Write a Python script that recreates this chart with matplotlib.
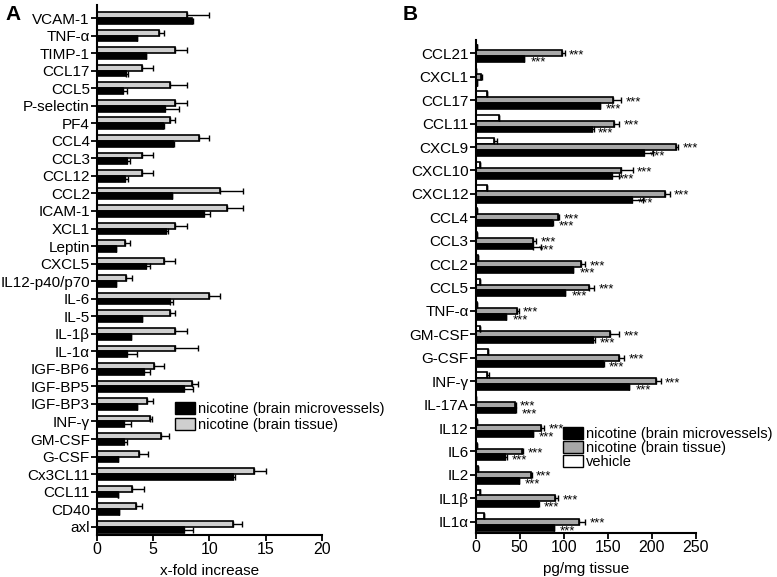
import matplotlib
matplotlib.use("Agg")
import matplotlib.pyplot as plt
from matplotlib.patches import Patch

plt.rcParams['font.family'] = ['Liberation Sans', 'DejaVu Sans']

# ---- panel A data (x-fold increase) ----
a_labels = ["VCAM-1", "TNF-α", "TIMP-1", "CCL17", "CCL5", "P-selectin", "PF4", "CCL4",
            "CCL3", "CCL12", "CCL2", "ICAM-1", "XCL1", "Leptin", "CXCL5", "IL12-p40/p70",
            "IL-6", "IL-5", "IL-1β", "IL-1α", "IGF-BP6", "IGF-BP5", "IGF-BP3", "INF-γ",
            "GM-CSF", "G-CSF", "Cx3CL11", "CCL11", "CD40", "axl"]
a_tissue = [8.0, 5.5, 7.0, 4.05, 6.55, 7.0, 6.55, 9.05, 4.05, 4.05, 11.0, 11.55, 7.0, 2.5,
            6.0, 2.6, 10.0, 6.55, 7.0, 7.0, 5.05, 8.5, 4.5, 4.75, 5.7, 3.75, 14.0, 3.15,
            3.5, 12.1]
a_tissue_err = [2.0, 0.5, 1.0, 0.95, 1.45, 1.0, 0.45, 0.95, 0.95, 0.95, 2.0, 1.45, 1.0, 0.5,
                1.0, 0.5, 1.0, 0.45, 1.0, 2.0, 0.95, 0.5, 0.5, 0.15, 0.7, 0.8, 1.0, 1.05,
                0.5, 0.8]
a_vessel = [8.5, 3.55, 4.4, 2.6, 2.35, 6.05, 5.85, 6.8, 2.7, 2.55, 6.7, 9.5, 6.2, 1.7,
            4.4, 1.7, 6.5, 4.0, 3.05, 2.65, 4.2, 7.75, 3.6, 2.4, 2.4, 1.9, 12.1, 1.9,
            1.95, 7.8]
a_vessel_err = [0.1, 0.0, 0.0, 0.2, 0.35, 1.25, 0.15, 0.1, 0.3, 0.2, 0.0, 0.6, 0.1, 0.0,
                0.3, 0.0, 0.25, 0.0, 0.0, 0.95, 0.5, 0.85, 0.0, 0.65, 0.25, 0.0, 0.2, 0.0,
                0.0, 0.8]

# ---- panel B data (pg/mg tissue) ----
b_labels = ["CCL21", "CXCL1", "CCL17", "CCL11", "CXCL9", "CXCL10", "CXCL12", "CCL4", "CCL3",
            "CCL2", "CCL5", "TNF-α", "GM-CSF", "G-CSF", "INF-γ", "IL-17A", "IL12", "IL6",
            "IL2", "IL1β", "IL1α"]
b_vehicle = [2, 0.5, 12.5, 27, 21, 5.3, 12.5, 1, 1.5, 2.6, 4.9, 1.5, 4.9, 14, 12.5, 0, 1.5,
             1.5, 3, 4.9, 9.5]
b_vehicle_err = [0, 0, 0, 0, 3, 0, 0, 0, 0, 0, 0, 0, 0, 0, 2.2, 0, 0, 0, 0, 0, 0]
b_tissue = [98, 5.7, 156, 157, 227, 164.5, 215, 93.5, 65, 119, 129, 47, 152.5, 162.5, 205,
            44.5, 74, 53, 62.5, 90.5, 117]
b_tissue_err = [3, 1.1, 9, 5.5, 3, 13.5, 5, 1.1, 3.8, 5.5, 5.6, 1.8, 10.5, 6, 5, 0.8, 3.5,
                1.2, 1.1, 3, 7]
b_vessel = [55, 1, 141, 132, 191, 155, 177, 87, 65, 111, 101.5, 34.5, 133.5, 144, 174.5,
            45, 65, 33.7, 48.8, 70.3, 88.5]
b_vessel_err = [0, 0, 0, 1.8, 10, 7.5, 13, 1.1, 8.7, 0, 0, 0, 2, 1.5, 0, 0.8, 0, 2.3, 0,
                1.1, 0]
b_stars = [True] * 21
b_stars[1] = False

fig = plt.figure(figsize=(7.77, 5.77), dpi=100)

# ---------------- panel A ----------------
axA = fig.add_axes([0.1245, 0.0728, 0.2896, 0.9185])
h = 0.33
ya = list(range(len(a_labels)))
ekw = dict(ecolor="black", elinewidth=1.0, capsize=2, capthick=1.0)
axA.barh([y - h / 2 for y in ya], a_tissue, height=h, color="#cfcfcf", edgecolor="black",
         linewidth=1.2, xerr=[[0] * len(ya), a_tissue_err], error_kw=ekw)
axA.barh([y + h / 2 for y in ya], a_vessel, height=h, color="black", edgecolor="black",
         linewidth=1.2, xerr=[[0] * len(ya), a_vessel_err], error_kw=ekw)
axA.set_yticks(ya)
axA.set_yticklabels(a_labels, fontsize=11)
axA.set_ylim(29.47, -0.74)
axA.set_xlim(0, 20)
axA.set_xticks([0, 5, 10, 15, 20])
axA.tick_params(axis="x", labelsize=11.5)
axA.set_xlabel("x-fold increase", fontsize=11, labelpad=5)
for s in ["top", "right"]:
    axA.spines[s].set_visible(False)
for s in ["left", "bottom"]:
    axA.spines[s].set_linewidth(1.5)
axA.tick_params(width=1.3, length=4, pad=1)

legA = [Patch(facecolor="black", edgecolor="black", label="nicotine (brain microvessels)"),
        Patch(facecolor="#cfcfcf", edgecolor="black", label="nicotine (brain tissue)")]
fig.legend(handles=legA, loc="upper left", bbox_to_anchor=(175 / 777, 1 - 402 / 577),
           frameon=False, fontsize=10.5, handlelength=1.4, handleheight=0.9,
           handletextpad=0.2, labelspacing=0.15, borderaxespad=0, borderpad=0)

# ---------------- panel B ----------------
axB = fig.add_axes([0.6122, 0.0763, 0.2835, 0.8544])
hb = 0.25
yb = list(range(len(b_labels)))
axB.barh([y - hb for y in yb], b_vehicle, height=hb, color="white", edgecolor="black",
         linewidth=1.2, xerr=[[0] * len(yb), b_vehicle_err], error_kw=ekw)
axB.barh(yb, b_tissue, height=hb, color="#a8a8a8", edgecolor="black",
         linewidth=1.2, xerr=[[0] * len(yb), b_tissue_err], error_kw=ekw)
axB.barh([y + hb for y in yb], b_vessel, height=hb, color="black", edgecolor="black",
         linewidth=1.2, xerr=[[0] * len(yb), b_vessel_err], error_kw=ekw)
for i, y in enumerate(yb):
    if not b_stars[i]:
        continue
    axB.text(b_tissue[i] + b_tissue_err[i] + 5, y + 0.08, "***", fontsize=9.5,
             va="center", ha="left")
    axB.text(b_vessel[i] + 7, y + hb + 0.15, "***", fontsize=9.5, va="center", ha="left")
axB.set_yticks(yb)
axB.set_yticklabels(b_labels, fontsize=11)
axB.set_ylim(20.48, -0.57)
axB.set_xlim(0, 250)
axB.set_xticks([0, 50, 100, 150, 200, 250])
axB.tick_params(axis="x", labelsize=11.5)
axB.set_xlabel("pg/mg tissue", fontsize=11, labelpad=5)
for s in ["top", "right"]:
    axB.spines[s].set_visible(False)
for s in ["left", "bottom"]:
    axB.spines[s].set_linewidth(1.5)
axB.tick_params(width=1.3, length=4, pad=1)

legB = [Patch(facecolor="black", edgecolor="black", label="nicotine (brain microvessels)"),
        Patch(facecolor="#a8a8a8", edgecolor="black", label="nicotine (brain tissue)"),
        Patch(facecolor="white", edgecolor="black", label="vehicle")]
fig.legend(handles=legB, loc="upper left", bbox_to_anchor=(563 / 777, 1 - 427 / 577),
           frameon=False, fontsize=10.5, handlelength=1.4, handleheight=0.9,
           handletextpad=0.2, labelspacing=0.0, borderaxespad=0, borderpad=0)

fig.text(5 / 777, 1 - 14 / 577, "A", fontsize=15, fontweight="bold", va="center")
fig.text(403 / 777, 1 - 14 / 577, "B", fontsize=15, fontweight="bold", va="center")

fig.savefig("out.png", dpi=100)
